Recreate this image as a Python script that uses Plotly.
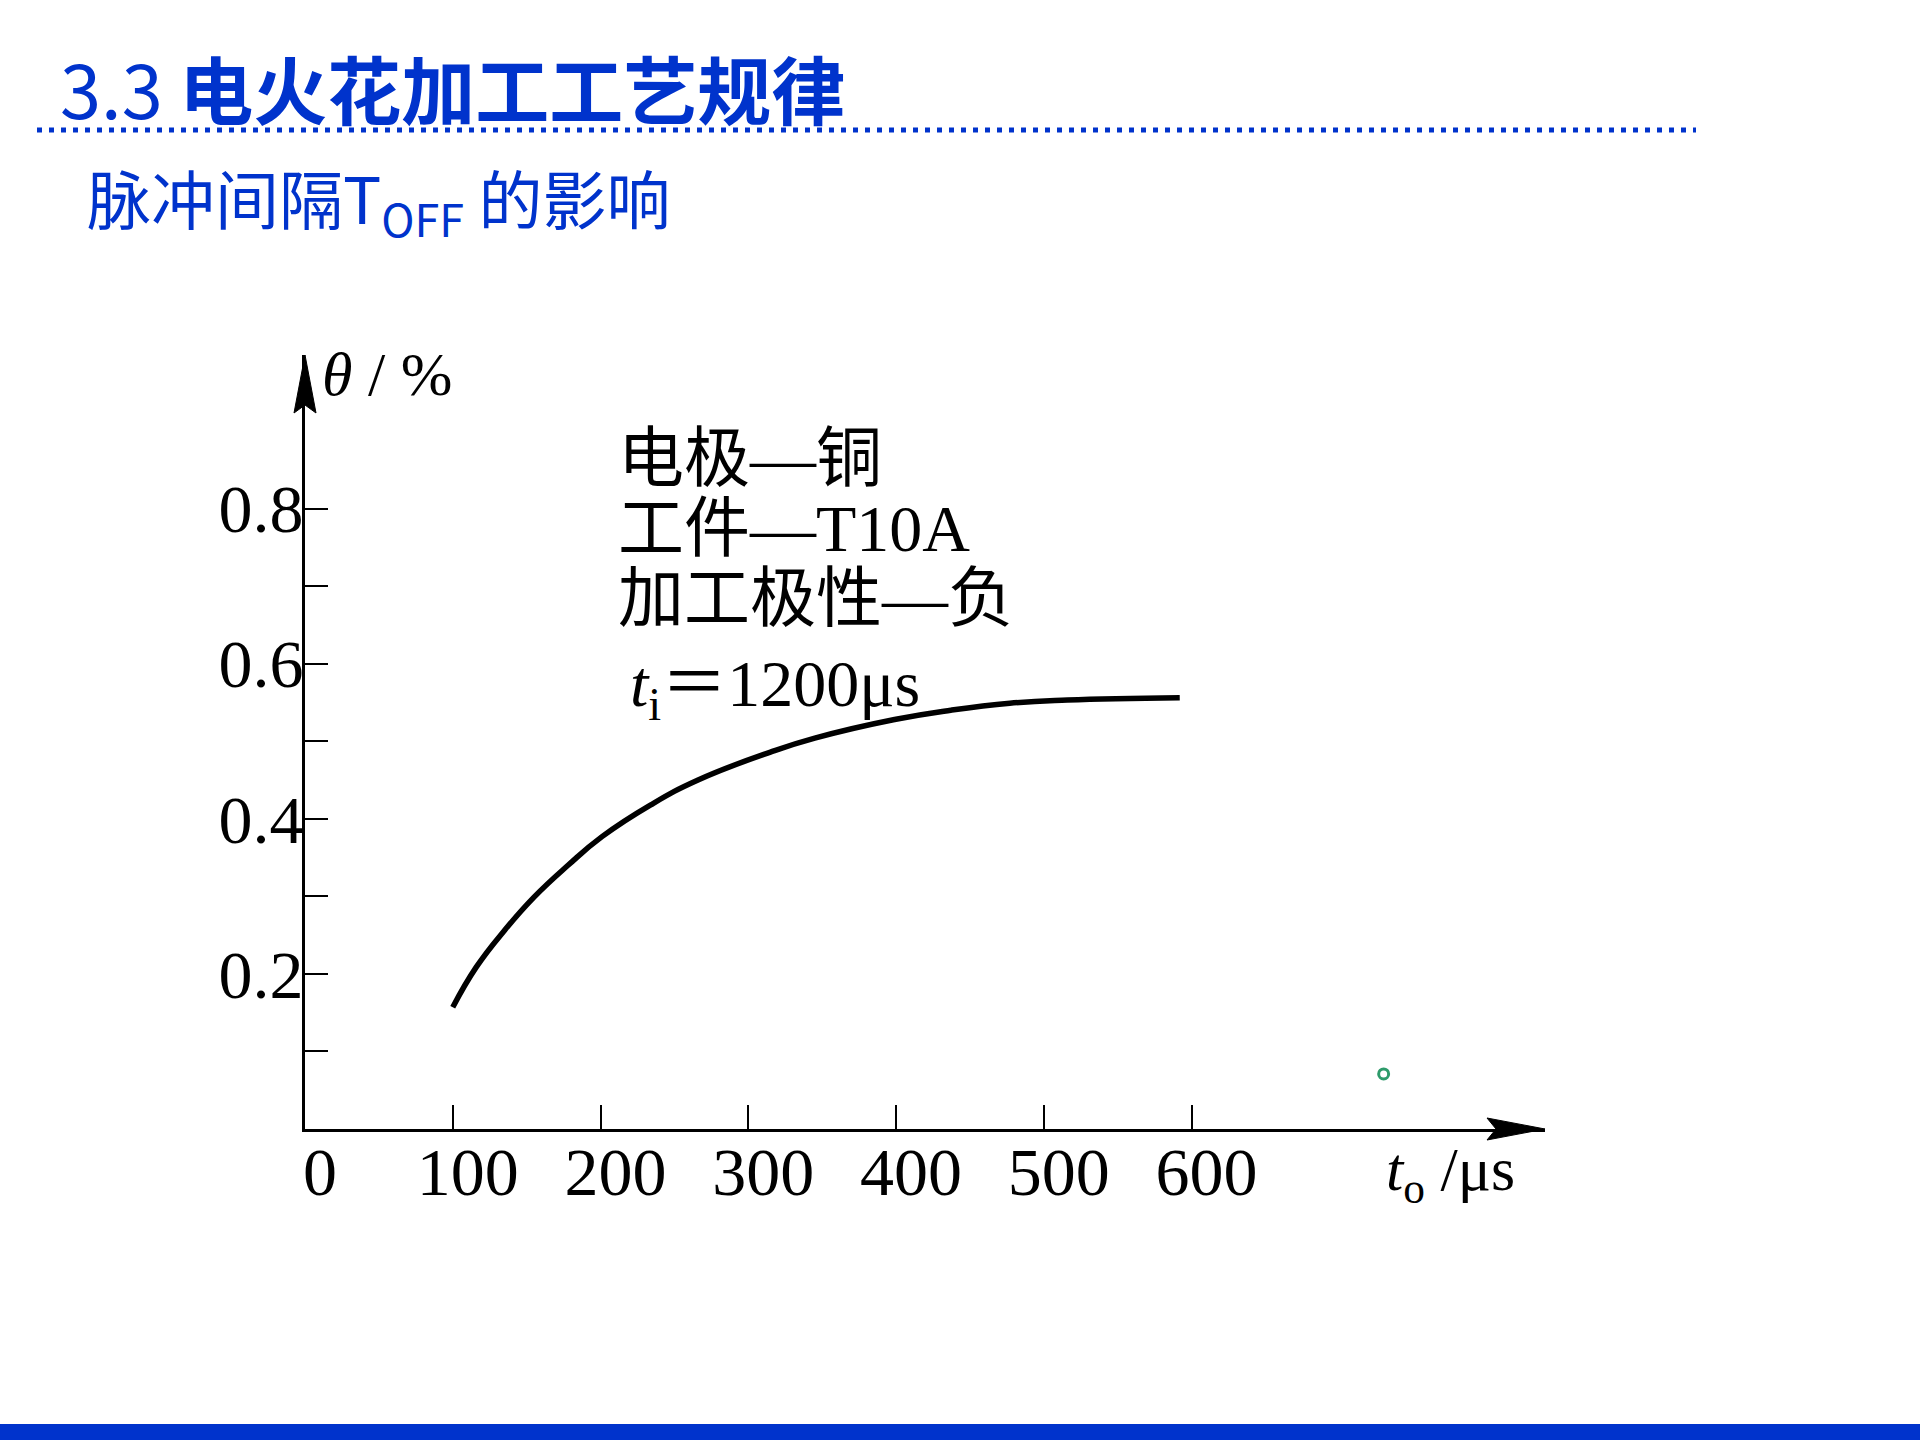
import plotly.graph_objects as go

# ---------------- data ----------------
t_off = [100, 116, 135, 155, 178, 201, 234, 266, 315, 345, 399, 437, 477, 516, 592]
theta = [0.157, 0.209, 0.256, 0.299, 0.340, 0.377, 0.418, 0.450, 0.486,
         0.504, 0.528, 0.540, 0.549, 0.553, 0.556]
x_tick_vals = [0, 100, 200, 300, 400, 500, 600]
x_tick_text = ["0", "100", "200", "300", "400", "500", "600"]
y_tick_vals = [0.2, 0.4, 0.6, 0.8]
y_tick_text = ["0.2", "0.4", "0.6", "0.8"]
y_minor_vals = [0.1, 0.3, 0.5, 0.7]
stray_x = [730]
stray_y = [0.071]

title_num = "3.3 "
title_cn = "电火花加工工艺规律"
subtitle_text = "脉冲间隔T<sub>OFF</sub> 的影响"
note_lines = ["电极—铜", "工件—T10A", "加工极性—负"]
note_ti = "<i>t</i><sub>i</sub>＝1200μs"
y_title = "<i>θ</i> / %"
x_title = "<i>t</i><sub>o</sub> /μs"

# ---------------- layout geometry ----------------
W, H = 1920, 1440
L, R, T, B = 305, 1545, 355, 1129
X_RANGE = [0, 839.2]
Y_RANGE = [0, 0.998]
BLUE = "#0033CC"
SERIF = "Liberation Serif, Noto Sans CJK SC, serif"
SANS = "Noto Sans CJK SC, Noto Sans, sans-serif"


def px(xp):
    return (xp - L) / (R - L)


def py(yp):
    return (B - yp) / (B - T)


fig = go.Figure()

fig.add_trace(go.Scatter(
    x=t_off, y=theta, mode="lines",
    line=dict(color="black", width=5.5, shape="spline", smoothing=1.3),
    hoverinfo="skip", showlegend=False))

fig.add_trace(go.Scatter(
    x=stray_x, y=stray_y, mode="markers",
    marker=dict(symbol="circle-open", size=10, color="#2E9B6B",
                line=dict(width=3, color="#2E9B6B")),
    hoverinfo="skip", showlegend=False))

shapes = [
    # dotted rule under the title
    dict(type="line", xref="paper", yref="paper",
         x0=px(37), x1=px(1696), y0=py(130), y1=py(130),
         line=dict(color=BLUE, width=5, dash="5px,7px")),
    # bottom blue band
    dict(type="rect", xref="paper", yref="paper",
         x0=px(0), x1=px(W), y0=py(1424), y1=py(H),
         line=dict(width=0), fillcolor=BLUE),
    # x-axis arrow head
    dict(type="path", xref="paper", yref="paper",
         xsizemode="pixel", ysizemode="pixel", xanchor=1, yanchor=0,
         path="M 0 0 L -58 11 L -49 0 L -58 -11 Z",
         fillcolor="black", line=dict(color="black", width=1)),
    # y-axis arrow head
    dict(type="path", xref="paper", yref="paper",
         xsizemode="pixel", ysizemode="pixel", xanchor=0, yanchor=1,
         path="M 0 0 L 11 -58 L 0 -50 L -11 -58 Z",
         fillcolor="black", line=dict(color="black", width=1)),
]

annotations = [
    dict(text=title_num + "<b>" + title_cn + "</b>", x=px(58), y=py(86),
         xanchor="left", yanchor="middle",
         font=dict(family=SANS, size=74, color=BLUE)),
    dict(text=subtitle_text, x=px(85), y=py(200), xanchor="left", yanchor="middle",
         font=dict(family=SANS, size=64, color=BLUE)),
    dict(text=y_title, x=px(320), y=py(374), xanchor="left", yanchor="middle",
         font=dict(family=SERIF, size=62, color="black")),
    dict(text=x_title, x=px(1384), y=py(1173), xanchor="left", yanchor="middle",
         font=dict(family=SERIF, size=62, color="black")),
]
for i, line in enumerate(note_lines):
    annotations.append(dict(
        text=line, x=px(616), y=py(458 + 70 * i), xanchor="left", yanchor="middle",
        font=dict(family=SERIF, size=66, color="black")))
annotations.append(dict(
    text=note_ti, x=px(628), y=py(688), xanchor="left", yanchor="middle",
    font=dict(family=SERIF, size=66, color="black")))

for a in annotations:
    a.update(xref="paper", yref="paper", showarrow=False)

fig.update_layout(
    template="none",
    width=W, height=H, autosize=False,
    margin=dict(l=L, r=W - R, t=T, b=H - B, pad=0),
    paper_bgcolor="white", plot_bgcolor="white",
    showlegend=False,
    shapes=shapes, annotations=annotations,
    xaxis=dict(range=X_RANGE, automargin=False, showgrid=False, zeroline=False,
               showline=True, linecolor="black", linewidth=3,
               tickmode="array", tickvals=x_tick_vals, ticktext=x_tick_text,
               ticks="inside", ticklen=24, tickwidth=2, tickcolor="black",
               ticklabelshift=15, ticklabelstandoff=-19,
               tickfont=dict(family=SERIF, size=68, color="black")),
    yaxis=dict(range=Y_RANGE, automargin=False, showgrid=False, zeroline=False,
               showline=True, linecolor="black", linewidth=3,
               tickmode="array", tickvals=y_tick_vals, ticktext=y_tick_text,
               ticks="inside", ticklen=23, tickwidth=2, tickcolor="black",
               minor=dict(tickmode="array", tickvals=y_minor_vals, ticks="inside",
                          ticklen=23, tickwidth=2, tickcolor="black", showgrid=False),
               ticklabelstandoff=-15,
               tickfont=dict(family=SERIF, size=68, color="black")),
)

fig.write_html(
    "out.html",
    config={"displayModeBar": False},
    post_script="document.body.style.margin='0';document.body.style.overflow='hidden';",
)
